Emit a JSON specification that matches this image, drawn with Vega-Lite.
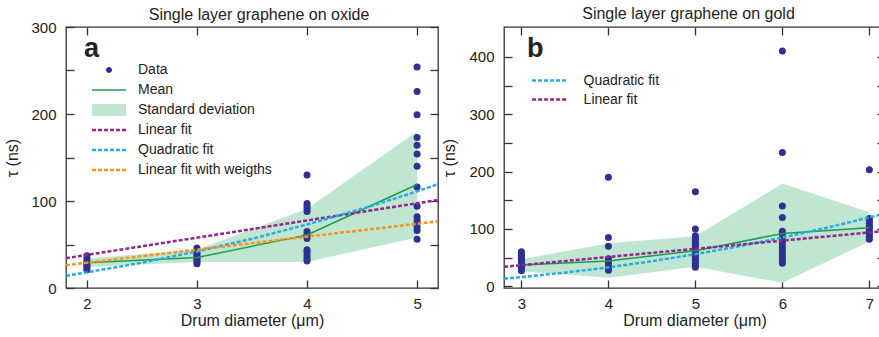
{
  "$schema": "https://vega.github.io/schema/vega-lite/v6.json",
  "padding": {"left": 4, "top": 5, "right": 0, "bottom": 0},
  "spacing": -3,
  "datasets": {
    "oxide_pts": [
      {"x": 2, "y": 37}, {"x": 2, "y": 34}, {"x": 2, "y": 31}, {"x": 2, "y": 29}, {"x": 2, "y": 27}, {"x": 2, "y": 25}, {"x": 2, "y": 23}, {"x": 2, "y": 21},
      {"x": 3, "y": 46}, {"x": 3, "y": 43}, {"x": 3, "y": 40}, {"x": 3, "y": 38}, {"x": 3, "y": 36}, {"x": 3, "y": 34}, {"x": 3, "y": 32}, {"x": 3, "y": 30}, {"x": 3, "y": 28},
      {"x": 4, "y": 130}, {"x": 4, "y": 97}, {"x": 4, "y": 94}, {"x": 4, "y": 91}, {"x": 4, "y": 88}, {"x": 4, "y": 65}, {"x": 4, "y": 62}, {"x": 4, "y": 60}, {"x": 4, "y": 57}, {"x": 4, "y": 44}, {"x": 4, "y": 42}, {"x": 4, "y": 39}, {"x": 4, "y": 36}, {"x": 4, "y": 33}, {"x": 4, "y": 31},
      {"x": 5, "y": 254}, {"x": 5, "y": 226}, {"x": 5, "y": 199}, {"x": 5, "y": 173}, {"x": 5, "y": 164}, {"x": 5, "y": 154}, {"x": 5, "y": 140}, {"x": 5, "y": 116}, {"x": 5, "y": 94}, {"x": 5, "y": 82}, {"x": 5, "y": 78}, {"x": 5, "y": 74}, {"x": 5, "y": 70}, {"x": 5, "y": 66}, {"x": 5, "y": 56}
    ],
    "oxide_stats": [
      {"x": 2, "mean": 29, "lo": 24, "hi": 34},
      {"x": 3, "mean": 35, "lo": 30, "hi": 44},
      {"x": 4, "mean": 61, "lo": 30, "hi": 91},
      {"x": 5, "mean": 119, "lo": 58, "hi": 180}
    ],
    "oxide_fits": [
      {"fit": "Linear fit", "x": 1.81, "y": 34.3}, {"fit": "Linear fit", "x": 5.19, "y": 101.2},
      {"fit": "Quadratic fit", "x": 1.81, "y": 14.0}, {"fit": "Quadratic fit", "x": 2, "y": 18}, {"fit": "Quadratic fit", "x": 2.5, "y": 29.1}, {"fit": "Quadratic fit", "x": 3, "y": 42}, {"fit": "Quadratic fit", "x": 3.5, "y": 56.6}, {"fit": "Quadratic fit", "x": 4, "y": 73}, {"fit": "Quadratic fit", "x": 4.5, "y": 91.1}, {"fit": "Quadratic fit", "x": 5, "y": 111}, {"fit": "Quadratic fit", "x": 5.19, "y": 119.4},
      {"fit": "Linear fit with weigths", "x": 1.81, "y": 26.3}, {"fit": "Linear fit with weigths", "x": 5.19, "y": 76.7}
    ],
    "gold_pts": [
      {"x": 3, "y": 60}, {"x": 3, "y": 57}, {"x": 3, "y": 54}, {"x": 3, "y": 51}, {"x": 3, "y": 48}, {"x": 3, "y": 45}, {"x": 3, "y": 42}, {"x": 3, "y": 39}, {"x": 3, "y": 36}, {"x": 3, "y": 33}, {"x": 3, "y": 30}, {"x": 3, "y": 27},
      {"x": 4, "y": 190}, {"x": 4, "y": 85}, {"x": 4, "y": 70}, {"x": 4, "y": 48}, {"x": 4, "y": 44}, {"x": 4, "y": 40}, {"x": 4, "y": 36}, {"x": 4, "y": 32}, {"x": 4, "y": 28},
      {"x": 5, "y": 165}, {"x": 5, "y": 100}, {"x": 5, "y": 88}, {"x": 5, "y": 84}, {"x": 5, "y": 80}, {"x": 5, "y": 76}, {"x": 5, "y": 72}, {"x": 5, "y": 68}, {"x": 5, "y": 64}, {"x": 5, "y": 60}, {"x": 5, "y": 56}, {"x": 5, "y": 52}, {"x": 5, "y": 48}, {"x": 5, "y": 44}, {"x": 5, "y": 40}, {"x": 5, "y": 36}, {"x": 5, "y": 33},
      {"x": 6, "y": 410}, {"x": 6, "y": 233}, {"x": 6, "y": 140}, {"x": 6, "y": 120}, {"x": 6, "y": 96}, {"x": 6, "y": 92}, {"x": 6, "y": 86}, {"x": 6, "y": 80}, {"x": 6, "y": 74}, {"x": 6, "y": 68}, {"x": 6, "y": 63}, {"x": 6, "y": 58}, {"x": 6, "y": 53}, {"x": 6, "y": 48}, {"x": 6, "y": 44}, {"x": 6, "y": 40},
      {"x": 7, "y": 203}, {"x": 7, "y": 118}, {"x": 7, "y": 114}, {"x": 7, "y": 110}, {"x": 7, "y": 106}, {"x": 7, "y": 102}, {"x": 7, "y": 98}, {"x": 7, "y": 94}, {"x": 7, "y": 90}, {"x": 7, "y": 86}, {"x": 7, "y": 82}
    ],
    "gold_stats": [
      {"x": 3, "mean": 37, "lo": 26, "hi": 47},
      {"x": 4, "mean": 44, "lo": 15, "hi": 75},
      {"x": 5, "mean": 62, "lo": 34, "hi": 87},
      {"x": 6, "mean": 92, "lo": 6, "hi": 179},
      {"x": 7, "mean": 102, "lo": 78, "hi": 129}
    ],
    "gold_fits": [
      {"fit": "Quadratic fit", "x": 2.8, "y": 13.3}, {"fit": "Quadratic fit", "x": 3, "y": 16}, {"fit": "Quadratic fit", "x": 3.5, "y": 23.75}, {"fit": "Quadratic fit", "x": 4, "y": 33}, {"fit": "Quadratic fit", "x": 4.5, "y": 43.75}, {"fit": "Quadratic fit", "x": 5, "y": 56}, {"fit": "Quadratic fit", "x": 5.5, "y": 69.75}, {"fit": "Quadratic fit", "x": 6, "y": 85}, {"fit": "Quadratic fit", "x": 6.5, "y": 101.75}, {"fit": "Quadratic fit", "x": 7, "y": 120}, {"fit": "Quadratic fit", "x": 7.18, "y": 127},
      {"fit": "Linear fit", "x": 2.8, "y": 34}, {"fit": "Linear fit", "x": 7.18, "y": 96.4}
    ]
  },
  "hconcat": [
    {
      "width": 372,
      "height": 261,
      "title": {"text": "Single layer graphene on oxide", "offset": -3, "dx": 7},
      "resolve": {"axis": {"x": "independent", "y": "independent"}},
      "layer": [
        {
          "data": {"name": "oxide_stats"},
          "mark": {"type": "area", "opacity": 1},
          "encoding": {
            "x": {"field": "x", "type": "quantitative", "scale": {"domain": [1.81, 5.19], "nice": false, "zero": false},
                  "axis": {"values": [2, 3, 4, 5], "title": "Drum diameter (μm)", "titlePadding": 1, "labelPadding": 16}},
            "y": {"field": "lo", "type": "quantitative", "scale": {"domain": [0, 300], "nice": false},
                  "axis": {"values": [0, 50, 100, 150, 200, 250, 300], "labelExpr": "datum.value % 100 === 0 ? datum.label : ''", "title": "τ (ns)", "titlePadding": 10}},
            "y2": {"field": "hi"},
            "color": {
              "datum": "Standard deviation",
              "scale": {"domain": ["Data", "Mean", "Standard deviation", "Linear fit", "Quadratic fit", "Linear fit with weigths"],
                        "range": ["#2e3192", "#1f9a52", "#bfe6d0", "#93278f", "#29abe2", "#f7941d"]},
              "legend": {
                "title": "a", "orient": "none", "legendX": 18, "legendY": 9, "direction": "vertical",
                "titleFontSize": 27, "titleFontWeight": "bold", "titleColor": "#222", "titlePadding": 0,
                "labelFontSize": 14, "labelColor": "#222", "symbolSize": 400, "symbolOffset": 18, "labelOffset": 22,
                "rowPadding": 6, "padding": 0,
                "encode": {"symbols": {"update": {
                  "shape": {"signal": "datum.value === 'Data' ? 'M0.3,0A0.3,0.3 0 1,1 -0.3,0A0.3,0.3 0 1,1 0.3,0Z' : datum.value === 'Standard deviation' ? 'M-1.7,-0.6H1.7V0.6H-1.7Z' : 'M-1.7,0H1.7'"},
                  "size": {"value": 400},
                  "fill": {"signal": "datum.value === 'Data' ? '#2e3192' : datum.value === 'Standard deviation' ? '#bfe6d0' : 'transparent'"},
                  "stroke": {"signal": "datum.value === 'Mean' ? '#1f9a52' : datum.value === 'Linear fit' ? '#93278f' : datum.value === 'Quadratic fit' ? '#29abe2' : datum.value === 'Linear fit with weigths' ? '#f7941d' : 'transparent'"},
                  "strokeWidth": {"signal": "datum.value === 'Mean' ? 1.5 : datum.value === 'Data' || datum.value === 'Standard deviation' ? 0 : 2.5"},
                  "strokeDash": {"signal": "indexof(datum.value, 'fit') >= 0 ? [4, 2] : []"},
                  "opacity": {"value": 1}
                }}}
              }
            }
          }
        },
        {
          "data": {"name": "oxide_pts"},
          "mark": {"type": "circle", "size": 49, "opacity": 1},
          "encoding": {
            "x": {"field": "x", "type": "quantitative", "axis": null},
            "y": {"field": "y", "type": "quantitative", "axis": null},
            "color": {
              "datum": "Data",
              "scale": {"domain": ["Data", "Mean", "Standard deviation", "Linear fit", "Quadratic fit", "Linear fit with weigths"],
                        "range": ["#2e3192", "#1f9a52", "#bfe6d0", "#93278f", "#29abe2", "#f7941d"]},
              "legend": {
                "title": "a", "orient": "none", "legendX": 18, "legendY": 9, "direction": "vertical",
                "titleFontSize": 27, "titleFontWeight": "bold", "titleColor": "#222", "titlePadding": 0,
                "labelFontSize": 14, "labelColor": "#222", "symbolSize": 400, "symbolOffset": 18, "labelOffset": 22,
                "rowPadding": 6, "padding": 0,
                "encode": {"symbols": {"update": {
                  "shape": {"signal": "datum.value === 'Data' ? 'M0.3,0A0.3,0.3 0 1,1 -0.3,0A0.3,0.3 0 1,1 0.3,0Z' : datum.value === 'Standard deviation' ? 'M-1.7,-0.6H1.7V0.6H-1.7Z' : 'M-1.7,0H1.7'"},
                  "size": {"value": 400},
                  "fill": {"signal": "datum.value === 'Data' ? '#2e3192' : datum.value === 'Standard deviation' ? '#bfe6d0' : 'transparent'"},
                  "stroke": {"signal": "datum.value === 'Mean' ? '#1f9a52' : datum.value === 'Linear fit' ? '#93278f' : datum.value === 'Quadratic fit' ? '#29abe2' : datum.value === 'Linear fit with weigths' ? '#f7941d' : 'transparent'"},
                  "strokeWidth": {"signal": "datum.value === 'Mean' ? 1.5 : datum.value === 'Data' || datum.value === 'Standard deviation' ? 0 : 2.5"},
                  "strokeDash": {"signal": "indexof(datum.value, 'fit') >= 0 ? [4, 2] : []"},
                  "opacity": {"value": 1}
                }}}
              }
            }
          }
        },
        {
          "data": {"name": "oxide_stats"},
          "mark": {"type": "line", "strokeWidth": 1.5},
          "encoding": {
            "x": {"field": "x", "type": "quantitative", "axis": null},
            "y": {"field": "mean", "type": "quantitative", "axis": null},
            "color": {
              "datum": "Mean",
              "scale": {"domain": ["Data", "Mean", "Standard deviation", "Linear fit", "Quadratic fit", "Linear fit with weigths"],
                        "range": ["#2e3192", "#1f9a52", "#bfe6d0", "#93278f", "#29abe2", "#f7941d"]},
              "legend": {
                "title": "a", "orient": "none", "legendX": 18, "legendY": 9, "direction": "vertical",
                "titleFontSize": 27, "titleFontWeight": "bold", "titleColor": "#222", "titlePadding": 0,
                "labelFontSize": 14, "labelColor": "#222", "symbolSize": 400, "symbolOffset": 18, "labelOffset": 22,
                "rowPadding": 6, "padding": 0,
                "encode": {"symbols": {"update": {
                  "shape": {"signal": "datum.value === 'Data' ? 'M0.3,0A0.3,0.3 0 1,1 -0.3,0A0.3,0.3 0 1,1 0.3,0Z' : datum.value === 'Standard deviation' ? 'M-1.7,-0.6H1.7V0.6H-1.7Z' : 'M-1.7,0H1.7'"},
                  "size": {"value": 400},
                  "fill": {"signal": "datum.value === 'Data' ? '#2e3192' : datum.value === 'Standard deviation' ? '#bfe6d0' : 'transparent'"},
                  "stroke": {"signal": "datum.value === 'Mean' ? '#1f9a52' : datum.value === 'Linear fit' ? '#93278f' : datum.value === 'Quadratic fit' ? '#29abe2' : datum.value === 'Linear fit with weigths' ? '#f7941d' : 'transparent'"},
                  "strokeWidth": {"signal": "datum.value === 'Mean' ? 1.5 : datum.value === 'Data' || datum.value === 'Standard deviation' ? 0 : 2.5"},
                  "strokeDash": {"signal": "indexof(datum.value, 'fit') >= 0 ? [4, 2] : []"},
                  "opacity": {"value": 1}
                }}}
              }
            }
          }
        },
        {
          "data": {"name": "oxide_fits"},
          "mark": {"type": "line", "strokeWidth": 2.5, "strokeDash": [4, 2]},
          "encoding": {
            "x": {"field": "x", "type": "quantitative", "axis": {"orient": "top", "labels": false, "title": null, "values": [2, 3, 4, 5], "labelPadding": 0}},
            "y": {"field": "y", "type": "quantitative", "axis": {"orient": "right", "labels": false, "title": null, "values": [0, 50, 100, 150, 200, 250, 300], "labelPadding": 0}},
            "color": {
              "field": "fit",
              "scale": {"domain": ["Data", "Mean", "Standard deviation", "Linear fit", "Quadratic fit", "Linear fit with weigths"],
                        "range": ["#2e3192", "#1f9a52", "#bfe6d0", "#93278f", "#29abe2", "#f7941d"]},
              "legend": {
                "title": "a", "orient": "none", "legendX": 18, "legendY": 9, "direction": "vertical",
                "titleFontSize": 27, "titleFontWeight": "bold", "titleColor": "#222", "titlePadding": 0,
                "labelFontSize": 14, "labelColor": "#222", "symbolSize": 400, "symbolOffset": 18, "labelOffset": 22,
                "rowPadding": 6, "padding": 0,
                "encode": {"symbols": {"update": {
                  "shape": {"signal": "datum.value === 'Data' ? 'M0.3,0A0.3,0.3 0 1,1 -0.3,0A0.3,0.3 0 1,1 0.3,0Z' : datum.value === 'Standard deviation' ? 'M-1.7,-0.6H1.7V0.6H-1.7Z' : 'M-1.7,0H1.7'"},
                  "size": {"value": 400},
                  "fill": {"signal": "datum.value === 'Data' ? '#2e3192' : datum.value === 'Standard deviation' ? '#bfe6d0' : 'transparent'"},
                  "stroke": {"signal": "datum.value === 'Mean' ? '#1f9a52' : datum.value === 'Linear fit' ? '#93278f' : datum.value === 'Quadratic fit' ? '#29abe2' : datum.value === 'Linear fit with weigths' ? '#f7941d' : 'transparent'"},
                  "strokeWidth": {"signal": "datum.value === 'Mean' ? 1.5 : datum.value === 'Data' || datum.value === 'Standard deviation' ? 0 : 2.5"},
                  "strokeDash": {"signal": "indexof(datum.value, 'fit') >= 0 ? [4, 2] : []"},
                  "opacity": {"value": 1}
                }}}
              }
            }
          }
        }
      ]
    },
    {
      "width": 381,
      "height": 261,
      "title": {"text": "Single layer graphene on gold", "offset": 4, "dx": -6},
      "resolve": {"axis": {"x": "independent", "y": "independent"}},
      "layer": [
        {
          "data": {"name": "gold_stats"},
          "mark": {"type": "area", "opacity": 1, "color": "#bfe6d0"},
          "encoding": {
            "x": {"field": "x", "type": "quantitative", "scale": {"domain": [2.8, 7.18], "nice": false, "zero": false},
                  "axis": {"values": [3, 4, 5, 6, 7], "title": "Drum diameter (μm)", "titlePadding": 1, "labelPadding": 16}},
            "y": {"field": "lo", "type": "quantitative", "scale": {"domain": [-3, 452], "nice": false, "zero": false},
                  "axis": {"values": [0, 50, 100, 150, 200, 250, 300, 350, 400], "labelExpr": "datum.value % 100 === 0 ? datum.label : ''", "title": "τ (ns)", "titlePadding": 11}},
            "y2": {"field": "hi"}
          }
        },
        {
          "data": {"name": "gold_pts"},
          "mark": {"type": "circle", "size": 49, "opacity": 1, "color": "#2e3192"},
          "encoding": {
            "x": {"field": "x", "type": "quantitative", "axis": null},
            "y": {"field": "y", "type": "quantitative", "axis": null}
          }
        },
        {
          "data": {"name": "gold_stats"},
          "mark": {"type": "line", "strokeWidth": 1.5, "color": "#1f9a52"},
          "encoding": {
            "x": {"field": "x", "type": "quantitative", "axis": null},
            "y": {"field": "mean", "type": "quantitative", "axis": null}
          }
        },
        {
          "data": {"name": "gold_fits"},
          "mark": {"type": "line", "strokeWidth": 2.5, "strokeDash": [4, 2]},
          "encoding": {
            "x": {"field": "x", "type": "quantitative", "axis": {"orient": "top", "labels": false, "title": null, "values": [3, 4, 5, 6, 7], "labelPadding": 0}},
            "y": {"field": "y", "type": "quantitative", "axis": {"orient": "right", "labels": false, "title": null, "values": [0, 50, 100, 150, 200, 250, 300, 350, 400], "labelPadding": 0}},
            "color": {
              "field": "fit",
              "scale": {"domain": ["Quadratic fit", "Linear fit"], "range": ["#29abe2", "#93278f"]},
              "legend": {
                "title": "b", "orient": "none", "legendX": 23, "legendY": 9, "direction": "vertical",
                "titleFontSize": 27, "titleFontWeight": "bold", "titleColor": "#222", "titlePadding": 6,
                "labelFontSize": 14, "labelColor": "#222", "symbolSize": 400, "symbolOffset": 10.6, "labelOffset": 23,
                "rowPadding": 0, "padding": 0,
                "encode": {"symbols": {"update": {
                  "shape": {"value": "M-1.7,0H1.7"},
                  "size": {"value": 400},
                  "fill": {"value": "transparent"},
                  "stroke": {"signal": "datum.value === 'Linear fit' ? '#93278f' : '#29abe2'"},
                  "strokeWidth": {"value": 2.5},
                  "strokeDash": {"value": [4, 2]},
                  "opacity": {"value": 1}
                }}}
              }
            }
          }
        }
      ]
    }
  ],
  "resolve": {"scale": {"color": "independent"}, "legend": {"color": "independent"}},
  "config": {
    "font": "Liberation Sans",
    "view": {"stroke": "#333", "strokeWidth": 1.3},
    "axis": {"domain": false, "grid": false, "tickColor": "#333", "tickWidth": 1.3, "tickSize": -8, "labelFontSize": 15, "labelColor": "#222", "labelPadding": 18, "titleFontSize": 16, "titleFontWeight": "normal", "titleColor": "#222"},
    "title": {"fontSize": 16, "fontWeight": "normal", "color": "#222"}
  }
}
